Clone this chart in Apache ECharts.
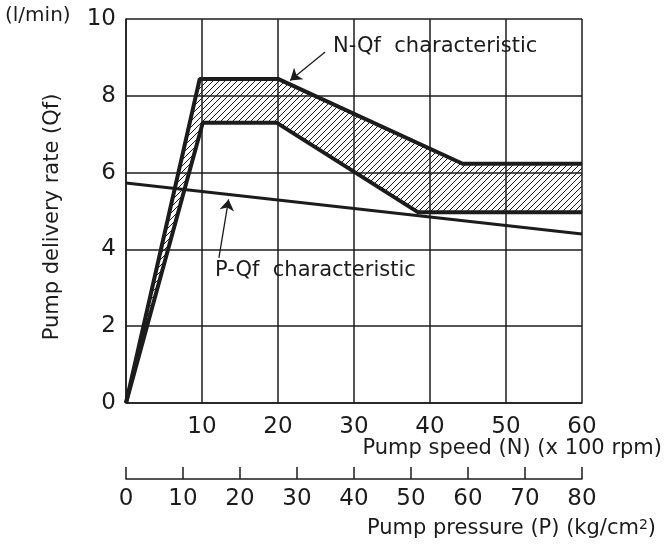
<!DOCTYPE html>
<html>
<head>
<meta charset="utf-8">
<script src="https://cdn.jsdelivr.net/npm/echarts@6/dist/echarts.min.js"></script>
<style>
  html, body { margin: 0; padding: 0; background: #fff; }
  #chart { width: 667px; height: 546px; }
</style>
</head>
<body>
<div id="chart"></div>
<script>
// N-Qf band (pump speed x100 rpm, l/min)
var nqfUpper = [[0, 0], [9.7, 8.44], [20, 8.44], [44.3, 6.23], [60, 6.23]];
var nqfLower = [[0, 0], [10.1, 7.3], [19.8, 7.3], [38.4, 4.97], [60, 4.97]];
// P-Qf line (pump pressure kg/cm2, l/min)
var pqfLine = [[0, 5.73], [80, 4.4]];
// callout arrows
var nqfArrow = [[26.2, 9.14], [21.6, 8.4]];
var pqfArrow = [[16.3, 3.78], [18.0, 5.3]];

var ink = '#1c1c1c';
var font = 'DejaVu Sans';

// diagonal hatching for the band
var hatch = document.createElement('canvas');
hatch.width = 6;
hatch.height = 6;
var ctx = hatch.getContext('2d');
ctx.strokeStyle = ink;
ctx.lineWidth = 1;
ctx.beginPath();
ctx.moveTo(0, 6); ctx.lineTo(6, 0);
ctx.moveTo(-1, 1); ctx.lineTo(1, -1);
ctx.moveTo(5, 7); ctx.lineTo(7, 5);
ctx.stroke();

var chart = echarts.init(document.getElementById('chart'));

var arrowMark = function (pts) {
    return {
        silent: true, symbol: ['none', 'arrow'], symbolSize: 11,
        label: { show: false },
        lineStyle: { color: ink, width: 1.3, type: 'solid' },
        data: [[{ coord: pts[0] }, { coord: pts[1] }]]
    };
};

var option = {
    backgroundColor: '#fff',
    animation: false,
    textStyle: { fontFamily: font, color: ink },
    grid: { left: 126, right: 85, top: 19, bottom: 143 },
    xAxis: [
        {
            type: 'value', min: 0, max: 60, interval: 10, position: 'bottom',
            axisLine: { lineStyle: { color: ink, width: 1.5 } },
            axisTick: { show: false },
            splitLine: { lineStyle: { color: ink, width: 1.5 } },
            axisLabel: {
                fontSize: 23, color: ink, margin: 13,
                formatter: function (v) { return v === 0 ? '' : v; }
            }
        },
        {
            type: 'value', min: 0, max: 80, interval: 10, position: 'bottom', offset: 76,
            axisLine: { lineStyle: { color: ink, width: 1.5 } },
            axisTick: { show: true, inside: true, length: 12, lineStyle: { color: ink, width: 1.5 } },
            splitLine: { show: false },
            axisLabel: { fontSize: 23, color: ink, margin: 9 }
        }
    ],
    yAxis: {
        type: 'value', min: 0, max: 10, interval: 2,
        axisLine: { show: true, lineStyle: { color: ink, width: 1.5 } },
        axisTick: { show: false },
        splitLine: { lineStyle: { color: ink, width: 1.5 } },
        axisLabel: { fontSize: 23, color: ink, margin: 10 }
    },
    series: [
        {
            type: 'custom',
            xAxisIndex: 0,
            silent: true,
            data: [0],
            z: 1,
            renderItem: function (params, api) {
                var pts = nqfUpper.concat(nqfLower.slice().reverse()).map(function (p) {
                    return api.coord(p);
                });
                return {
                    type: 'polygon',
                    shape: { points: pts },
                    style: { fill: { image: hatch, repeat: 'repeat' }, stroke: null }
                };
            }
        },
        {
            name: 'N-Qf upper', type: 'line', xAxisIndex: 0, data: nqfUpper,
            symbol: 'none', z: 3,
            lineStyle: { color: ink, width: 4 },
            markLine: arrowMark(nqfArrow)
        },
        {
            name: 'N-Qf lower', type: 'line', xAxisIndex: 0, data: nqfLower,
            symbol: 'none', z: 3,
            lineStyle: { color: ink, width: 4 }
        },
        {
            name: 'P-Qf', type: 'line', xAxisIndex: 1, data: pqfLine,
            symbol: 'none', z: 3,
            lineStyle: { color: ink, width: 3 },
            markLine: arrowMark(pqfArrow)
        }
    ],
    graphic: [
        { type: 'text', left: 5, top: 6, style: { text: '(l/min)', font: '20px ' + font, fill: ink } },
        {
            type: 'text', x: 53, y: 217, rotation: Math.PI / 2,
            style: { text: 'Pump delivery rate (Qf)', font: '21px ' + font, fill: ink, align: 'center', verticalAlign: 'middle' }
        },
        { type: 'text', x: 333, y: 47, style: { text: 'N-Qf  characteristic', font: '21px ' + font, fill: ink, verticalAlign: 'middle' } },
        { type: 'text', x: 215, y: 271, style: { text: 'P-Qf  characteristic', font: '21px ' + font, fill: ink, verticalAlign: 'middle' } },
        { type: 'text', x: 662, y: 449, style: { text: 'Pump speed (N) (x 100 rpm)', font: '21px ' + font, fill: ink, align: 'right', verticalAlign: 'middle' } },
        {
            type: 'text', x: 656, y: 529,
            style: {
                text: 'Pump pressure (P) (kg/cm{sup|2})', font: '21px ' + font, fill: ink,
                align: 'right', verticalAlign: 'middle',
                rich: { sup: { fontSize: 14, fontFamily: font, verticalAlign: 'top', padding: [0, 0, 8, 0] } }
            }
        }
    ]
};

chart.setOption(option);
</script>
</body>
</html>
